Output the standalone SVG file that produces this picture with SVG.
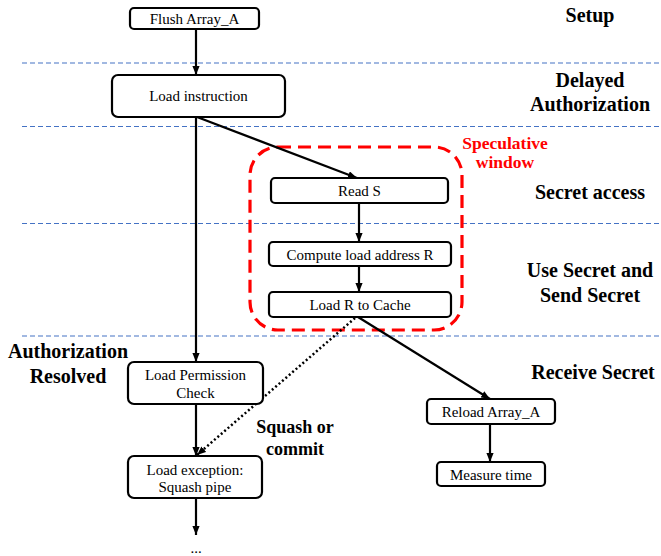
<svg xmlns="http://www.w3.org/2000/svg" width="661" height="556" viewBox="0 0 661 556">
<style>
.sep{stroke:#4472C4;stroke-width:1.2;stroke-dasharray:5 3;fill:none}
.box rect{fill:#fff;stroke:#000;stroke-width:2.2}
.box text{font-family:"Liberation Serif","Times New Roman",serif;font-size:15px;fill:#000;text-anchor:middle}
.lbl{font-family:"Liberation Serif","Times New Roman",serif;font-size:20px;font-weight:bold;fill:#000;text-anchor:middle}
.red{font-family:"Liberation Serif","Times New Roman",serif;font-size:17.5px;font-weight:bold;fill:#FF0000;text-anchor:middle}
.sq{font-family:"Liberation Serif","Times New Roman",serif;font-size:18px;font-weight:bold;fill:#000;text-anchor:middle}
.c{stroke:#000;stroke-width:2.2;fill:none;marker-end:url(#ah)}
.dot{stroke:#000;stroke-width:2.5;stroke-dasharray:2 2.5;fill:none;marker-end:url(#ah)}
</style>
<defs>
<marker id="ah" viewBox="0 0 10 8" markerWidth="9" markerHeight="7.5" refX="10" refY="4" orient="auto" markerUnits="userSpaceOnUse">
<path d="M0,0 L10,4 L0,8 z" fill="#000"/>
</marker>
</defs>
<rect width="661" height="556" fill="#fff"/>
<g id="separators">
<line class="sep" x1="22" y1="63" x2="659" y2="63"/>
<line class="sep" x1="22" y1="126.5" x2="659" y2="126.5"/>
<line class="sep" x1="22" y1="223.5" x2="659" y2="223.5"/>
<line class="sep" x1="22" y1="336" x2="659" y2="336"/>
</g>
<g id="speculative-window">
<rect x="250" y="147" width="212" height="183" rx="28" ry="28" fill="none" stroke="#FF0000" stroke-width="3.2" stroke-dasharray="13 7"/>
<text class="red" x="505" y="149">Speculative</text>
<text class="red" x="505" y="168">window</text>
</g>
<g id="phase-labels">
<text class="lbl" x="590" y="22">Setup</text>
<text class="lbl" x="590" y="87">Delayed</text>
<text class="lbl" x="590" y="111">Authorization</text>
<text class="lbl" x="590" y="199">Secret access</text>
<text class="lbl" x="590" y="277">Use Secret and</text>
<text class="lbl" x="590" y="302">Send Secret</text>
<text class="lbl" x="593" y="379">Receive Secret</text>
<text class="lbl" x="68" y="358">Authorization</text>
<text class="lbl" x="68" y="383">Resolved</text>
</g>
<g id="connectors">
<line class="c" x1="196" y1="29" x2="196" y2="75"/>
<line class="c" x1="197" y1="117" x2="357" y2="178"/>
<line class="c" x1="196" y1="117" x2="196" y2="362"/>
<line class="c" x1="359" y1="203" x2="359" y2="242"/>
<line class="c" x1="359" y1="266" x2="359" y2="292"/>
<line class="c" x1="358" y1="317" x2="490" y2="399"/>
<line class="dot" x1="355" y1="318" x2="197" y2="455"/>
<line class="c" x1="196" y1="404" x2="196" y2="456"/>
<line class="c" x1="196" y1="498" x2="196" y2="535"/>
<line class="c" x1="490" y1="424" x2="490" y2="462"/>
<text class="sq" x="295" y="433">Squash or</text>
<text class="sq" x="295" y="455">commit</text>
</g>
<g id="flush" class="box"><rect x="130" y="8" width="129" height="21" rx="4"/><text x="194.5" y="24">Flush Array_A</text></g>
<g id="load-instruction" class="box"><rect x="112" y="75" width="173" height="42" rx="6"/><text x="198.5" y="101">Load instruction</text></g>
<g id="read-s" class="box"><rect x="271" y="178" width="177" height="25" rx="4"/><text x="359.5" y="196">Read S</text></g>
<g id="compute" class="box"><rect x="269" y="242" width="182" height="24" rx="4"/><text x="360" y="260">Compute load address R</text></g>
<g id="load-r" class="box"><rect x="269" y="292" width="182" height="25" rx="4"/><text x="360" y="310">Load R to Cache</text></g>
<g id="perm-check" class="box"><rect x="128" y="362" width="135" height="42" rx="6"/><text x="195.5" y="380">Load Permission</text><text x="195.5" y="398">Check</text></g>
<g id="load-exception" class="box"><rect x="128" y="456" width="134" height="42" rx="6"/><text x="195" y="475">Load exception:</text><text x="195" y="492">Squash pipe</text></g>
<g id="reload" class="box"><rect x="427" y="399" width="128" height="25" rx="4"/><text x="491" y="417">Reload Array_A</text></g>
<g id="measure" class="box"><rect x="437" y="462" width="108" height="24" rx="4"/><text x="491" y="480">Measure time</text></g>
<g id="ellipsis"><text x="196" y="553" style="font-family:'Liberation Serif',serif;font-size:15px;text-anchor:middle">...</text></g>
</svg>
